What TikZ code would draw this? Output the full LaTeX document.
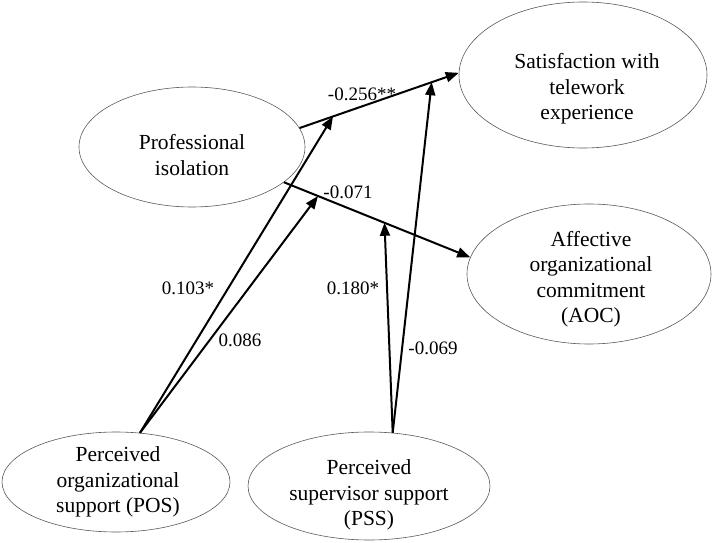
\documentclass[tikz,border=0pt]{standalone}
\usepackage{fontspec}
\setmainfont{Liberation Serif}
\usetikzlibrary{shapes.geometric,arrows.meta}
\begin{document}
\begin{tikzpicture}[x=1pt,y=-1pt,
  ell/.style={draw=black!65, line width=0.6pt, ellipse, inner sep=0pt},
  txt/.style={align=center, font=\fontsize{21.5}{25.5}\selectfont, inner sep=0pt},
  coef/.style={font=\fontsize{19}{22}\selectfont, inner sep=0pt},
  arr/.style={line width=2pt, -{Triangle[length=13pt,width=10pt]}}
]
\useasboundingbox (0,0) rectangle (716,543);
% constructs
\node[ell, minimum width=226pt, minimum height=120pt] (pi) at (192,147) {};
\node[ell, minimum width=248pt, minimum height=146pt] (sat) at (583,75) {};
\node[ell, minimum width=244pt, minimum height=140pt] (aoc) at (589,274) {};
\node[ell, minimum width=228pt, minimum height=100pt] (pos) at (116,482) {};
\node[ell, minimum width=242pt, minimum height=108pt] (pss) at (369,486) {};
% texts
\node[txt] (pit) at (192,155) {Professional\\isolation};
\node[txt] (satt) at (587,89) {Satisfaction with\\telework\\experience};
\node[txt] (aoct) at (591,279) {Affective\\organizational\\commitment\\(AOC)};
\node[txt] (post) at (118,482) {Perceived\\organizational\\support (POS)};
\node[txt] (psst) at (369,495) {Perceived\\supervisor support\\(PSS)};
% main paths
\draw[arr] (pi.10) -- (sat.179) coordinate[pos=0.21] (m1) coordinate[pos=0.83] (m3);
\draw[arr] (pi.-21.6) -- (aoc.172) coordinate[pos=0.183] (m2) coordinate[pos=0.54] (m4);
% moderating paths
\draw[arr] (pos.64) -- (m1);
\draw[arr] (pos.64) -- (m2);
\draw[arr] (pss.66) -- (m4);
\draw[arr] (pss.66) -- (m3);
% coefficients
\node[coef] (c1) at (362,94) {-0.256**};
\node[coef] (c2) at (348,192) {-0.071};
\node[coef] (c3) at (188,288) {0.103*};
\node[coef] (c4) at (240,340) {0.086};
\node[coef] (c5) at (353,288) {0.180*};
\node[coef] (c6) at (433,348) {-0.069};
\end{tikzpicture}
\end{document}
